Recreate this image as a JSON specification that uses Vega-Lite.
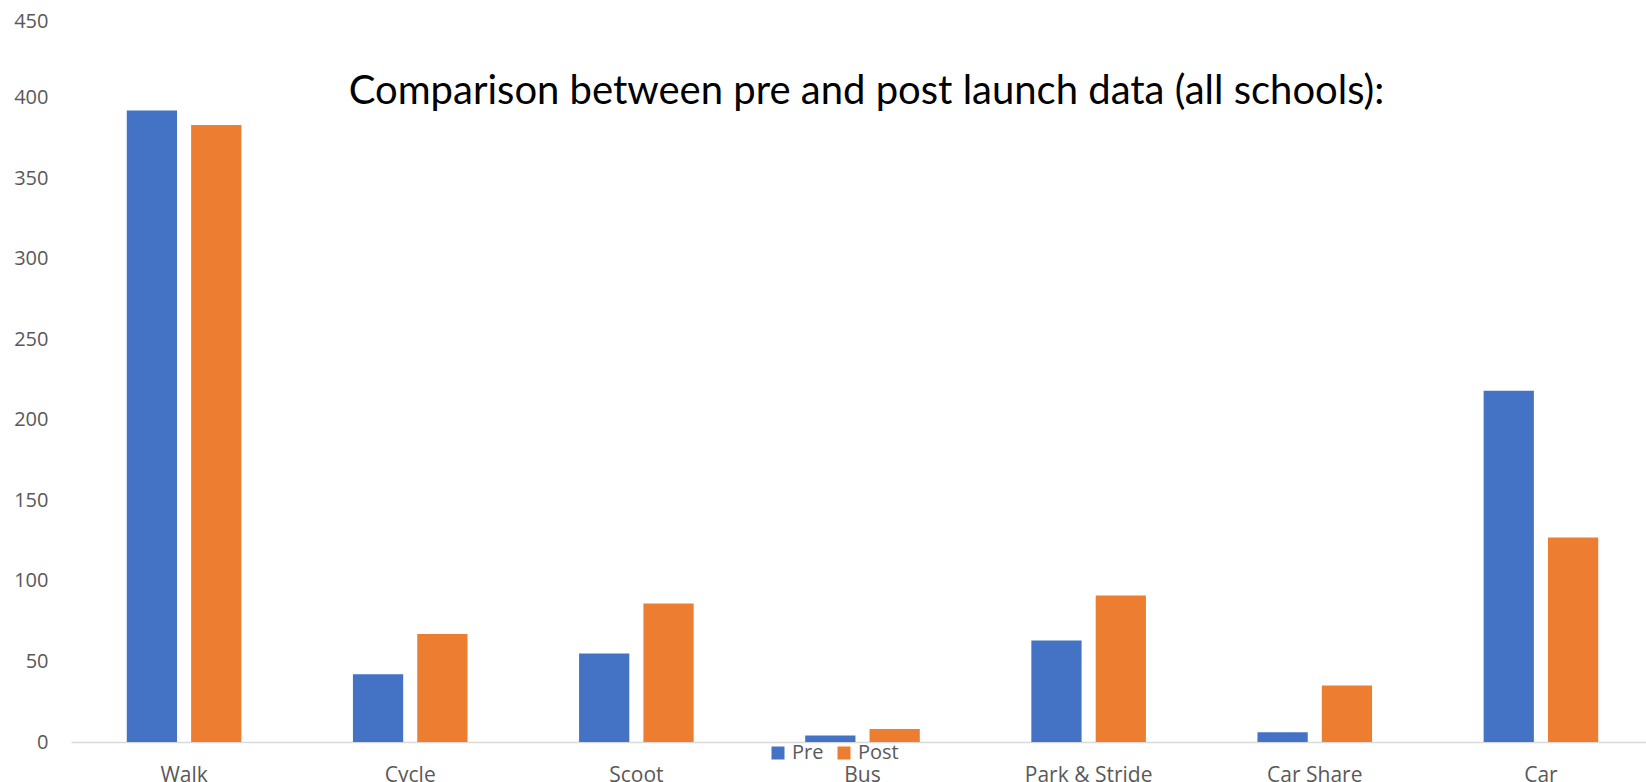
{
  "$schema": "https://vega.github.io/schema/vega-lite/v6.json",
  "width": 1575,
  "height": 725,
  "autosize": {"type": "none"},
  "padding": {"left": 71, "top": 17, "right": 0, "bottom": 40},
  "background": "white",
  "data": {"values": [
    {"mode": "Walk", "period": "Pre", "count": 392},
    {"mode": "Walk", "period": "Post", "count": 383},
    {"mode": "Cycle", "period": "Pre", "count": 42},
    {"mode": "Cycle", "period": "Post", "count": 67},
    {"mode": "Scoot", "period": "Pre", "count": 55},
    {"mode": "Scoot", "period": "Post", "count": 86},
    {"mode": "Bus", "period": "Pre", "count": 4},
    {"mode": "Bus", "period": "Post", "count": 8},
    {"mode": "Park & Stride", "period": "Pre", "count": 63},
    {"mode": "Park & Stride", "period": "Post", "count": 91},
    {"mode": "Car Share", "period": "Pre", "count": 6},
    {"mode": "Car Share", "period": "Post", "count": 35},
    {"mode": "Car", "period": "Pre", "count": 218},
    {"mode": "Car", "period": "Post", "count": 127}
  ]},
  "title": {
    "text": "Comparison between pre and post launch data (all schools):",
    "font": "Lato",
    "fontSize": 40,
    "fontWeight": "normal",
    "color": "#000000",
    "anchor": "middle",
    "frame": "group",
    "baseline": "alphabetic",
    "offset": -133,
    "dx": 8
  },
  "mark": {"type": "bar"},
  "encoding": {
    "x": {
      "field": "mode",
      "type": "nominal",
      "sort": ["Walk", "Cycle", "Scoot", "Bus", "Park & Stride", "Car Share", "Car"],
      "scale": {"paddingInner": 0.4933, "paddingOuter": 0.2467, "range": [0, 1583]},
      "axis": {
        "title": null,
        "labelAngle": 0,
        "ticks": false,
        "domainColor": "#D9D9D9",
        "domainWidth": 1.5,
        "labelPadding": 22,
        "labelFont": "Open Sans",
        "labelFontSize": 21,
        "labelColor": "#595959"
      }
    },
    "xOffset": {
      "field": "period",
      "type": "nominal",
      "sort": ["Pre", "Post"],
      "scale": {"paddingInner": 0.219, "paddingOuter": 0}
    },
    "y": {
      "field": "count",
      "type": "quantitative",
      "scale": {"domain": [0, 450]},
      "axis": {
        "title": null,
        "values": [0, 50, 100, 150, 200, 250, 300, 350, 400, 450],
        "grid": false,
        "domain": false,
        "ticks": false,
        "labelPadding": 23,
        "labelOffset": {"condition": {"test": "datum.value == 450", "value": 4}, "value": 0},
        "labelFont": "Open Sans",
        "labelFontSize": 20,
        "labelColor": "#595959"
      }
    },
    "color": {
      "field": "period",
      "type": "nominal",
      "sort": ["Pre", "Post"],
      "scale": {"domain": ["Pre", "Post"], "range": ["#4472C4", "#ED7D31"]},
      "legend": {
        "title": null,
        "orient": "none",
        "legendX": 697,
        "legendY": 726,
        "direction": "horizontal",
        "symbolType": "square",
        "symbolSize": 169,
        "symbolStrokeWidth": 0,
        "labelFont": "Open Sans",
        "labelFontSize": 20,
        "labelColor": "#595959",
        "columnPadding": 10
      }
    }
  },
  "config": {"view": {"stroke": null}}
}
